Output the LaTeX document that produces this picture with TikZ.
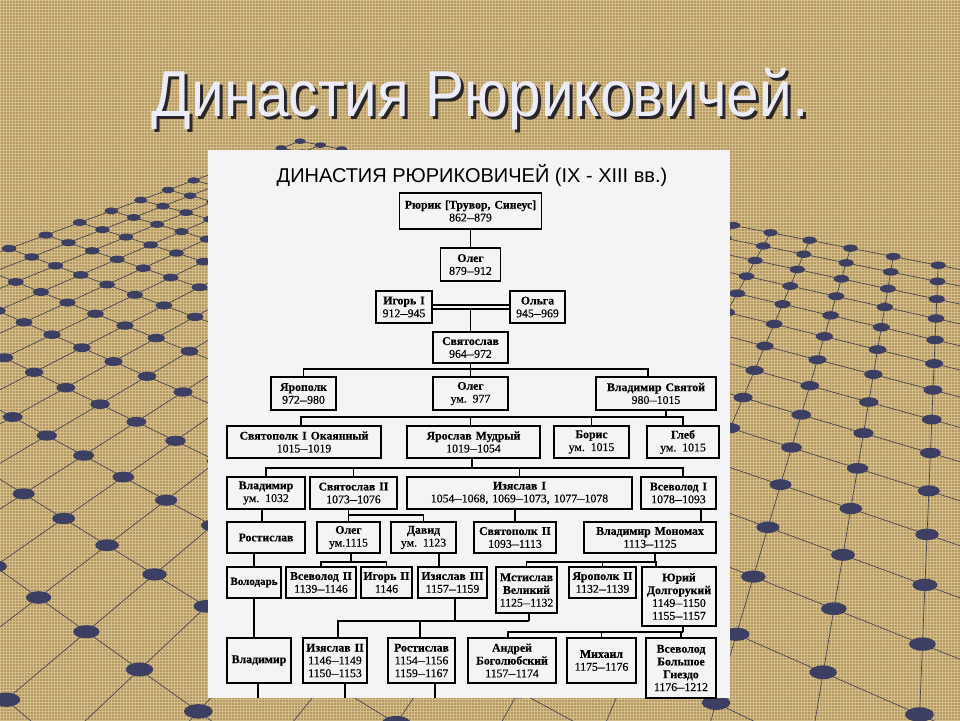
\documentclass[tikz,border=0pt]{standalone}
\usepackage{graphicx}
\usepackage{fontspec}
\setmainfont{Liberation Serif}
\newfontfamily\boxfont[FakeBold=0.4]{Liberation Serif}
\newfontfamily\headfont{Liberation Sans}
\newfontfamily\titlefont[FakeStretch=0.9]{Liberation Sans}
\usetikzlibrary{patterns}
\definecolor{burlap}{RGB}{180,151,100}
\definecolor{burlaplight}{RGB}{212,190,136}
\definecolor{dotc}{RGB}{60,62,98}
\definecolor{gridc}{RGB}{74,70,82}
\definecolor{panelc}{RGB}{244,244,244}
\definecolor{titlec}{RGB}{236,236,248}
\definecolor{shadowc}{RGB}{40,38,40}
\newcommand\dsh{\scalebox{0.62}[1]{—}}
\newcommand\nm[1]{\textbf{#1}}
\tikzset{
  bx/.style 2 args={draw=black, line width=1.2pt, inner sep=0pt, align=center,
    text width=#1pt, minimum width=#1pt, minimum height=#2pt,
    font=\boxfont\fontsize{11.8}{12.8}\selectfont},
  ln/.style={draw=black, line width=1.2pt},
  gridline/.style={draw=gridc, line width=0.7pt},
}
\begin{document}
\begin{tikzpicture}[x=1pt,y=-1pt]
\useasboundingbox (0,0) rectangle (960,720);
% background
\fill[burlap] (0,0) rectangle (960,720);
\fill[pattern=grid, pattern color=burlaplight] (0,0) rectangle (960,720);
% perspective grid of dots
\begin{scope}
\clip (0,0) rectangle (960,720);
% lines along j (i fixed)
\foreach \i in {0,...,46}{
  \pgfmathsetmacro\jend{(24.09-0.5*\i)/0.866}
  \pgfmathsetmacro\Za{3.4-0.055*\i}
  \pgfmathsetmacro\Xa{-0.746+0.09526*\i}
  \pgfmathsetmacro\Xb{\Xa-0.055*\jend}
  \draw[gridline] ({480+820*\Xa/\Za},{-100+820/\Za}) -- ({480+820*\Xb/0.75},{-100+820/0.75});
}
% lines along i (j fixed)
\foreach \j in {0,...,27}{
  \pgfmathsetmacro\iend{(24.09-0.866*\j)/0.5}
  \pgfmathsetmacro\Za{3.4-0.09526*\j}
  \pgfmathsetmacro\Xa{-0.746-0.055*\j}
  \pgfmathsetmacro\Xb{\Xa+0.09526*\iend}
  \draw[gridline] ({480+820*\Xa/\Za},{-100+820/\Za}) -- ({480+820*\Xb/0.75},{-100+820/0.75});
}
% dots
\foreach \i in {0,...,46}{
  \foreach \j in {0,...,27}{
    \pgfmathsetmacro\Z{3.4-0.055*\i-0.09526*\j}
    \ifdim\Z pt>0.88pt
      \pgfmathsetmacro\X{-0.746+0.09526*\i-0.055*\j}
      \pgfmathsetmacro\px{480+820*\X/\Z}
      \ifdim\px pt<1000pt
        \ifdim\px pt>-40pt
          \pgfmathsetmacro\py{-100+820/\Z}
          \pgfmathsetmacro\rx{2+12.5/\Z}
          \pgfmathsetmacro\ry{0.5*\rx}
          \fill[dotc] (\px,\py) ellipse [x radius=\rx pt, y radius=\ry pt];
        \fi
      \fi
    \fi
  }
}
\end{scope}
% slide title
\node[anchor=base, text=shadowc, font=\titlefont\fontsize{65}{70}\selectfont] (tshadow) at (483,119) {Династия Рюриковичей.};
\node[anchor=base, text=titlec, font=\titlefont\fontsize{65}{70}\selectfont] (title) at (480,116) {Династия Рюриковичей.};
% panel
\fill[panelc] (208,150) rectangle (730,698);
\node[anchor=base, font=\headfont\fontsize{20}{24}\selectfont] (ptitle) at (472,182) {ДИНАСТИЯ РЮРИКОВИЧЕЙ (IX - XIII вв.)};
% boxes
\node[bx={142}{36}] (rurik) at (470.5,211) {\nm{Рюрик [Трувор, Синеус]}\\862\dsh879};
\node[bx={60}{33}] (oleg1) at (470.5,264.5) {\nm{Олег}\\879\dsh912};
\node[bx={56}{32}] (igor) at (404,307) {\nm{Игорь I}\\912\dsh945};
\node[bx={55}{32}] (olga) at (537.5,307) {\nm{Ольга}\\945\dsh969};
\node[bx={75}{31}] (svyat) at (470.5,347.5) {\nm{Святослав}\\964\dsh972};
\node[bx={65}{33}] (yaropolk) at (303.5,393.5) {\nm{Ярополк}\\972\dsh980};
\node[bx={75}{33}] (oleg2) at (470.5,393.5) {\nm{Олег}\\ум. 977};
\node[bx={120}{33}] (vladS) at (656,393.5) {\nm{Владимир Святой}\\980\dsh1015};
\node[bx={154}{32}] (svpolk) at (304,442) {\nm{Святополк I Окаянный}\\1015\dsh1019};
\node[bx={133}{32}] (yaroslav) at (473.5,442) {\nm{Ярослав Мудрый}\\1019\dsh1054};
\node[bx={75}{32}] (boris) at (591.5,442) {\nm{Борис}\\ум. 1015};
\node[bx={72}{32}] (gleb) at (683,442) {\nm{Глеб}\\ум. 1015};
\node[bx={78}{32}] (vlad1) at (266,493) {\nm{Владимир}\\ум. 1032};
\node[bx={87}{32}] (svII) at (353.5,493) {\nm{Святослав II}\\1073\dsh1076};
\node[bx={225}{32}] (izy1) at (519.5,493) {\nm{Изяслав I}\\1054\dsh1068, 1069\dsh1073, 1077\dsh1078};
\node[bx={75}{32}] (vsev1) at (678.5,493) {\nm{Всеволод I}\\1078\dsh1093};
\node[bx={78}{31}] (rost1) at (266,537.5) {\nm{Ростислав}};
\node[bx={63}{31}] (oleg3) at (348.5,537.5) {\nm{Олег}\\ум.1115};
\node[bx={65}{31}] (david) at (423.5,537.5) {\nm{Давид}\\ум. 1123};
\node[bx={82}{31}] (svp2) at (515,537.5) {\nm{Святополк II}\\1093\dsh1113};
\node[bx={132}{31}] (mono) at (650,537.5) {\nm{Владимир Мономах}\\1113\dsh1125};
\node[bx={54}{31}, font=\boxfont\fontsize{11}{12.8}\selectfont] (volodar) at (254,582.5) {\nm{Володарь}};
\node[bx={70}{31}] (vsev2) at (321,582.5) {\nm{Всеволод II}\\1139\dsh1146};
\node[bx={51}{31}] (igor2) at (386.5,582.5) {\nm{Игорь II}\\1146};
\node[bx={69}{31}] (izy3) at (452.5,582.5) {\nm{Изяслав III}\\1157\dsh1159};
\node[bx={61}{46}] (mstislav) at (526.5,590) {\nm{Мстислав}\\\nm{Великий}\\1125\dsh1132};
\node[bx={67}{31}] (yaropolk2) at (602.5,582.5) {\nm{Ярополк II}\\1132\dsh1139};
\node[bx={74}{59}] (yuri) at (679,596.5) {\nm{Юрий}\\\nm{Долгорукий}\\1149\dsh1150\\1155\dsh1157};
\node[bx={64}{45}] (vladB) at (259,660.5) {\nm{Владимир}};
\node[bx={64}{45}] (izy2) at (335,660.5) {\nm{Изяслав II}\\1146\dsh1149\\1150\dsh1153};
\node[bx={67}{45}] (rost2) at (421.5,660.5) {\nm{Ростислав}\\1154\dsh1156\\1159\dsh1167};
\node[bx={88}{45}] (andrei) at (512,660.5) {\nm{Андрей}\\\nm{Боголюбский}\\1157\dsh1174};
\node[bx={69}{45}] (mikhail) at (601.5,660.5) {\nm{Михаил}\\1175\dsh1176};
\node[bx={70}{60}] (vsevBG) at (681,668) {\nm{Всеволод}\\\nm{Большое}\\\nm{Гнездо}\\1176\dsh1212};
% bus coordinates
\coordinate (io) at (470.5,309);
\coordinate (b1) at (470.5,369);
\coordinate (b2) at (666,417);
\coordinate (b3) at (472,468);
\coordinate (b4) at (348.5,515);
\coordinate (b5) at (351,562);
\coordinate (b6) at (655,562);
\coordinate (b7) at (529,621);
\coordinate (b8) at (683,632);
\coordinate (e1) at (258,698);
\coordinate (e2) at (345,698);
\coordinate (e3) at (435,698);
% connectors
\draw[ln] (rurik.south) -- (oleg1.north);
\draw[ln] ([yshift=2pt]igor.east) -- ([yshift=2pt]olga.west);
\draw[ln] ([yshift=-2pt]igor.east) -- ([yshift=-2pt]olga.west);
\draw[ln] (io) -- (svyat.north);
\draw[ln] (svyat.south) -- (b1);
\draw[ln] (yaropolk.north) |- (b1) -| ([xshift=-8pt]vladS.north);
\draw[ln] (oleg2.north) -- (b1);
\draw[ln] ([xshift=10pt]vladS.south) -- (b2);
\draw[ln] ([xshift=-3pt]svpolk.north) |- (b2) -| (gleb.north);
\draw[ln] ([xshift=-3pt]yaroslav.north) -- ([xshift=-3pt]yaroslav.north |- b2);
\draw[ln] (boris.north) -- (boris.north |- b2);
\draw[ln] ([xshift=-1.5pt]yaroslav.south) -- (b3);
\draw[ln] (vlad1.north) |- (b3) -| ([xshift=4.5pt]vsev1.north);
\draw[ln] (svII.north) -- (svII.north |- b3);
\draw[ln] (izy1.north) -- (izy1.north |- b3);
\draw[ln] ([xshift=-4pt]vlad1.south) -- ([xshift=-4pt]vlad1.south |- rost1.north);
\draw[ln] (b4 |- svII.south) -- (b4);
\draw[ln] (oleg3.north) |- (b4) -| (david.north);
\draw[ln] (svp2.north) -- (svp2.north |- izy1.south);
\draw[ln] ([xshift=22.5pt]vsev1.south) -- ([xshift=22.5pt]vsev1.south |- mono.north);
\draw[ln] (volodar.north) -- (volodar.north |- rost1.south);
\draw[ln] (b5 |- oleg3.south) -- (b5);
\draw[ln] (vsev2.north) |- (b5) -| (igor2.north);
\draw[ln] ([xshift=15.5pt]david.south) -- ([xshift=15.5pt]david.south |- izy3.north);
\draw[ln] (b6 |- mono.south) -- (b6);
\draw[ln] (mstislav.north) |- (b6) -| ([xshift=-23pt]yuri.north);
\draw[ln] (yaropolk2.north) -- (yaropolk2.north |- b6);
\draw[ln] (volodar.south) -- (volodar.south |- vladB.north);
\draw[ln] (b7 |- mstislav.south) -- (b7);
\draw[ln] ([xshift=3pt]izy2.north) |- (b7);
\draw[ln] ([xshift=-1.5pt]rost2.north) -- ([xshift=-1.5pt]rost2.north |- b7);
\draw[ln] ([xshift=2.5pt]izy3.south) -- ([xshift=2.5pt]izy3.south |- b7);
\draw[ln] (b8 |- yuri.south) -- (b8);
\draw[ln] ([xshift=-4pt]andrei.north) |- (b8) -| (vsevBG.north);
\draw[ln] (mikhail.north) -- (mikhail.north |- b8);
\draw[ln] (e1 |- vladB.south) -- (e1);
\draw[ln] (e2 |- izy2.south) -- (e2);
\draw[ln] (e3 |- rost2.south) -- (e3);
\end{tikzpicture}
\end{document}
